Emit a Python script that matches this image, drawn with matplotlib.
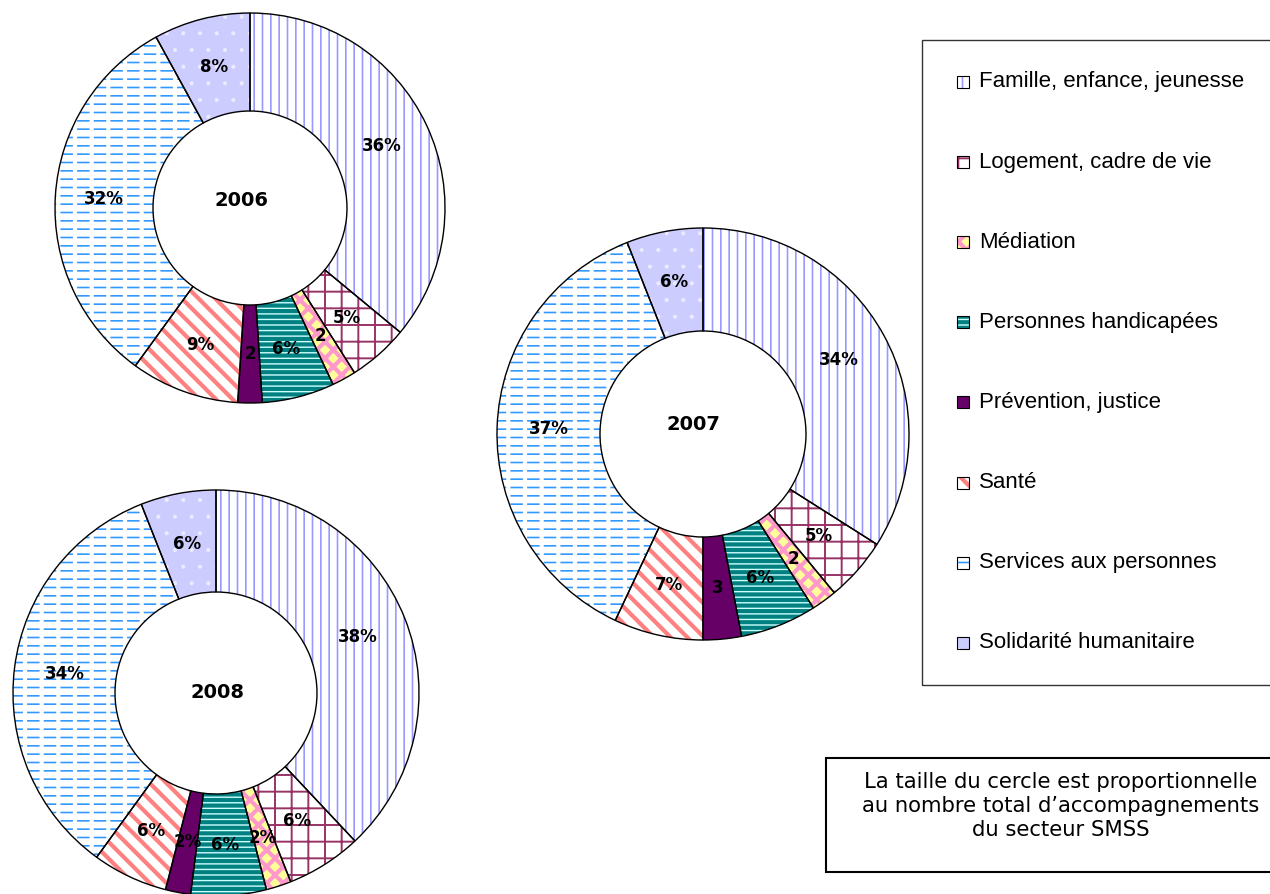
import numpy as np
import matplotlib.pyplot as plt
from matplotlib.patches import Rectangle, Wedge

categories = ['Famille, enfance, jeunesse', 'Logement, cadre de vie', 'Médiation',
              'Personnes handicapées', 'Prévention, justice', 'Santé',
              'Services aux personnes', 'Solidarité humanitaire']
years = ['2006', '2007', '2008']
shares_2006 = [36, 5, 2, 6, 2, 9, 32, 8]
shares_2007 = [34, 5, 2, 6, 3, 7, 37, 6]
shares_2008 = [38, 6, 2, 6, 2, 6, 34, 6]
labels_2006 = ['36%', '5%', '2', '6%', '2', '9%', '32%', '8%']
labels_2007 = ['34%', '5%', '2', '6%', '3', '7%', '37%', '6%']
labels_2008 = ['38%', '6%', '2%', '6%', '2%', '6%', '34%', '6%']
note = "La taille du cercle est proportionnelle\nau nombre total d\u2019accompagnements\ndu secteur SMSS"

# patterns per category
faces = ['white', 'white', '#ffff99', '#008080', '#660066', 'white', 'white', '#ccccff']
hatches = ['||', '+', 'xx', '---', None, '\\\\', '--', '.']
hatch_colors = ['#9999ff', '#993366', '#ff99cc', '#ccffff', '#660066', '#ff8080', '#3399ff', '#ececff']
hatch_lws = [1.2, 1.4, 3.0, 1.0, 1.0, 3.0, 1.2, 0.5]

W, H = 1270, 894
fig = plt.figure(figsize=(12.7, 8.94), dpi=100)
ax = fig.add_axes([0, 0, 1, 1])


def set_hlw(patch, lw):
    if hasattr(patch, 'set_hatch_linewidth'):
        patch.set_hatch_linewidth(lw)


def style_patch(p, i):
    p.set_facecolor(faces[i])
    p.set_edgecolor(hatch_colors[i])
    if hatches[i]:
        p.set_hatch(hatches[i])
        set_hlw(p, hatch_lws[i])


def ring(values, labels, year, cx, cy, r_out, r_in, year_off):
    cy = H - cy
    base, _ = ax.pie(values, radius=r_out, center=(cx, cy), startangle=90,
                     counterclock=False, wedgeprops=dict(width=r_out - r_in, linewidth=0))
    for i, w in enumerate(base):
        style_patch(w, i)
    # break the blue lines of "Services aux personnes" into dashes
    sv = base[6]
    brk = Wedge((cx, cy), r_out, sv.theta1, sv.theta2, width=r_out - r_in,
                fill=False, edgecolor='white', hatch='|', linewidth=0)
    set_hlw(brk, 3.0)
    ax.add_patch(brk)
    outline, _ = ax.pie(values, radius=r_out, center=(cx, cy), startangle=90,
                        counterclock=False,
                        wedgeprops=dict(width=r_out - r_in, fill=False,
                                        edgecolor='black', linewidth=1.0))
    rm = (r_out + r_in) / 2
    for w, lab in zip(outline, labels):
        a = np.deg2rad((w.theta1 + w.theta2) / 2)
        ax.text(cx + rm * np.cos(a), cy + rm * np.sin(a), lab, ha='center',
                va='center', fontsize=12, fontweight='bold')
    ax.text(cx + year_off[0], cy - year_off[1], year, ha='center', va='center',
            fontsize=14, fontweight='bold')


ring(shares_2006, labels_2006, years[0], 250, 208, 195, 97, (-8, -8))
ring(shares_2007, labels_2007, years[1], 703, 434, 206, 103, (-10, -10))
ring(shares_2008, labels_2008, years[2], 216, 693, 203, 101, (2, 0))

# legend
ax.add_patch(Rectangle((922, H - 685), 400, 645, fill=False, edgecolor='#333333', linewidth=1))
for i, cat in enumerate(categories):
    y = H - (82 + i * 80.1)
    p = Rectangle((957, y - 6), 12, 12, linewidth=0)
    style_patch(p, i)
    ax.add_patch(p)
    ax.add_patch(Rectangle((957, y - 6), 12, 12, fill=False, edgecolor='black', linewidth=0.8))
    ax.text(979, y, cat, ha='left', va='center', fontsize=16,
            family=['Liberation Sans Narrow', 'Liberation Sans', 'DejaVu Sans'])

# note box
ax.add_patch(Rectangle((826, H - 872), 470, 114, facecolor='white', edgecolor='black', linewidth=1.5))
ax.text(1061, H - 806, note, ha='center', va='center', multialignment='center',
        fontsize=15.2, linespacing=1.25, family='DejaVu Sans')

ax.set_xlim(0, W)
ax.set_ylim(0, H)
ax.set_aspect('equal')
ax.set_axis_off()
fig.savefig('out.png', dpi=100)
